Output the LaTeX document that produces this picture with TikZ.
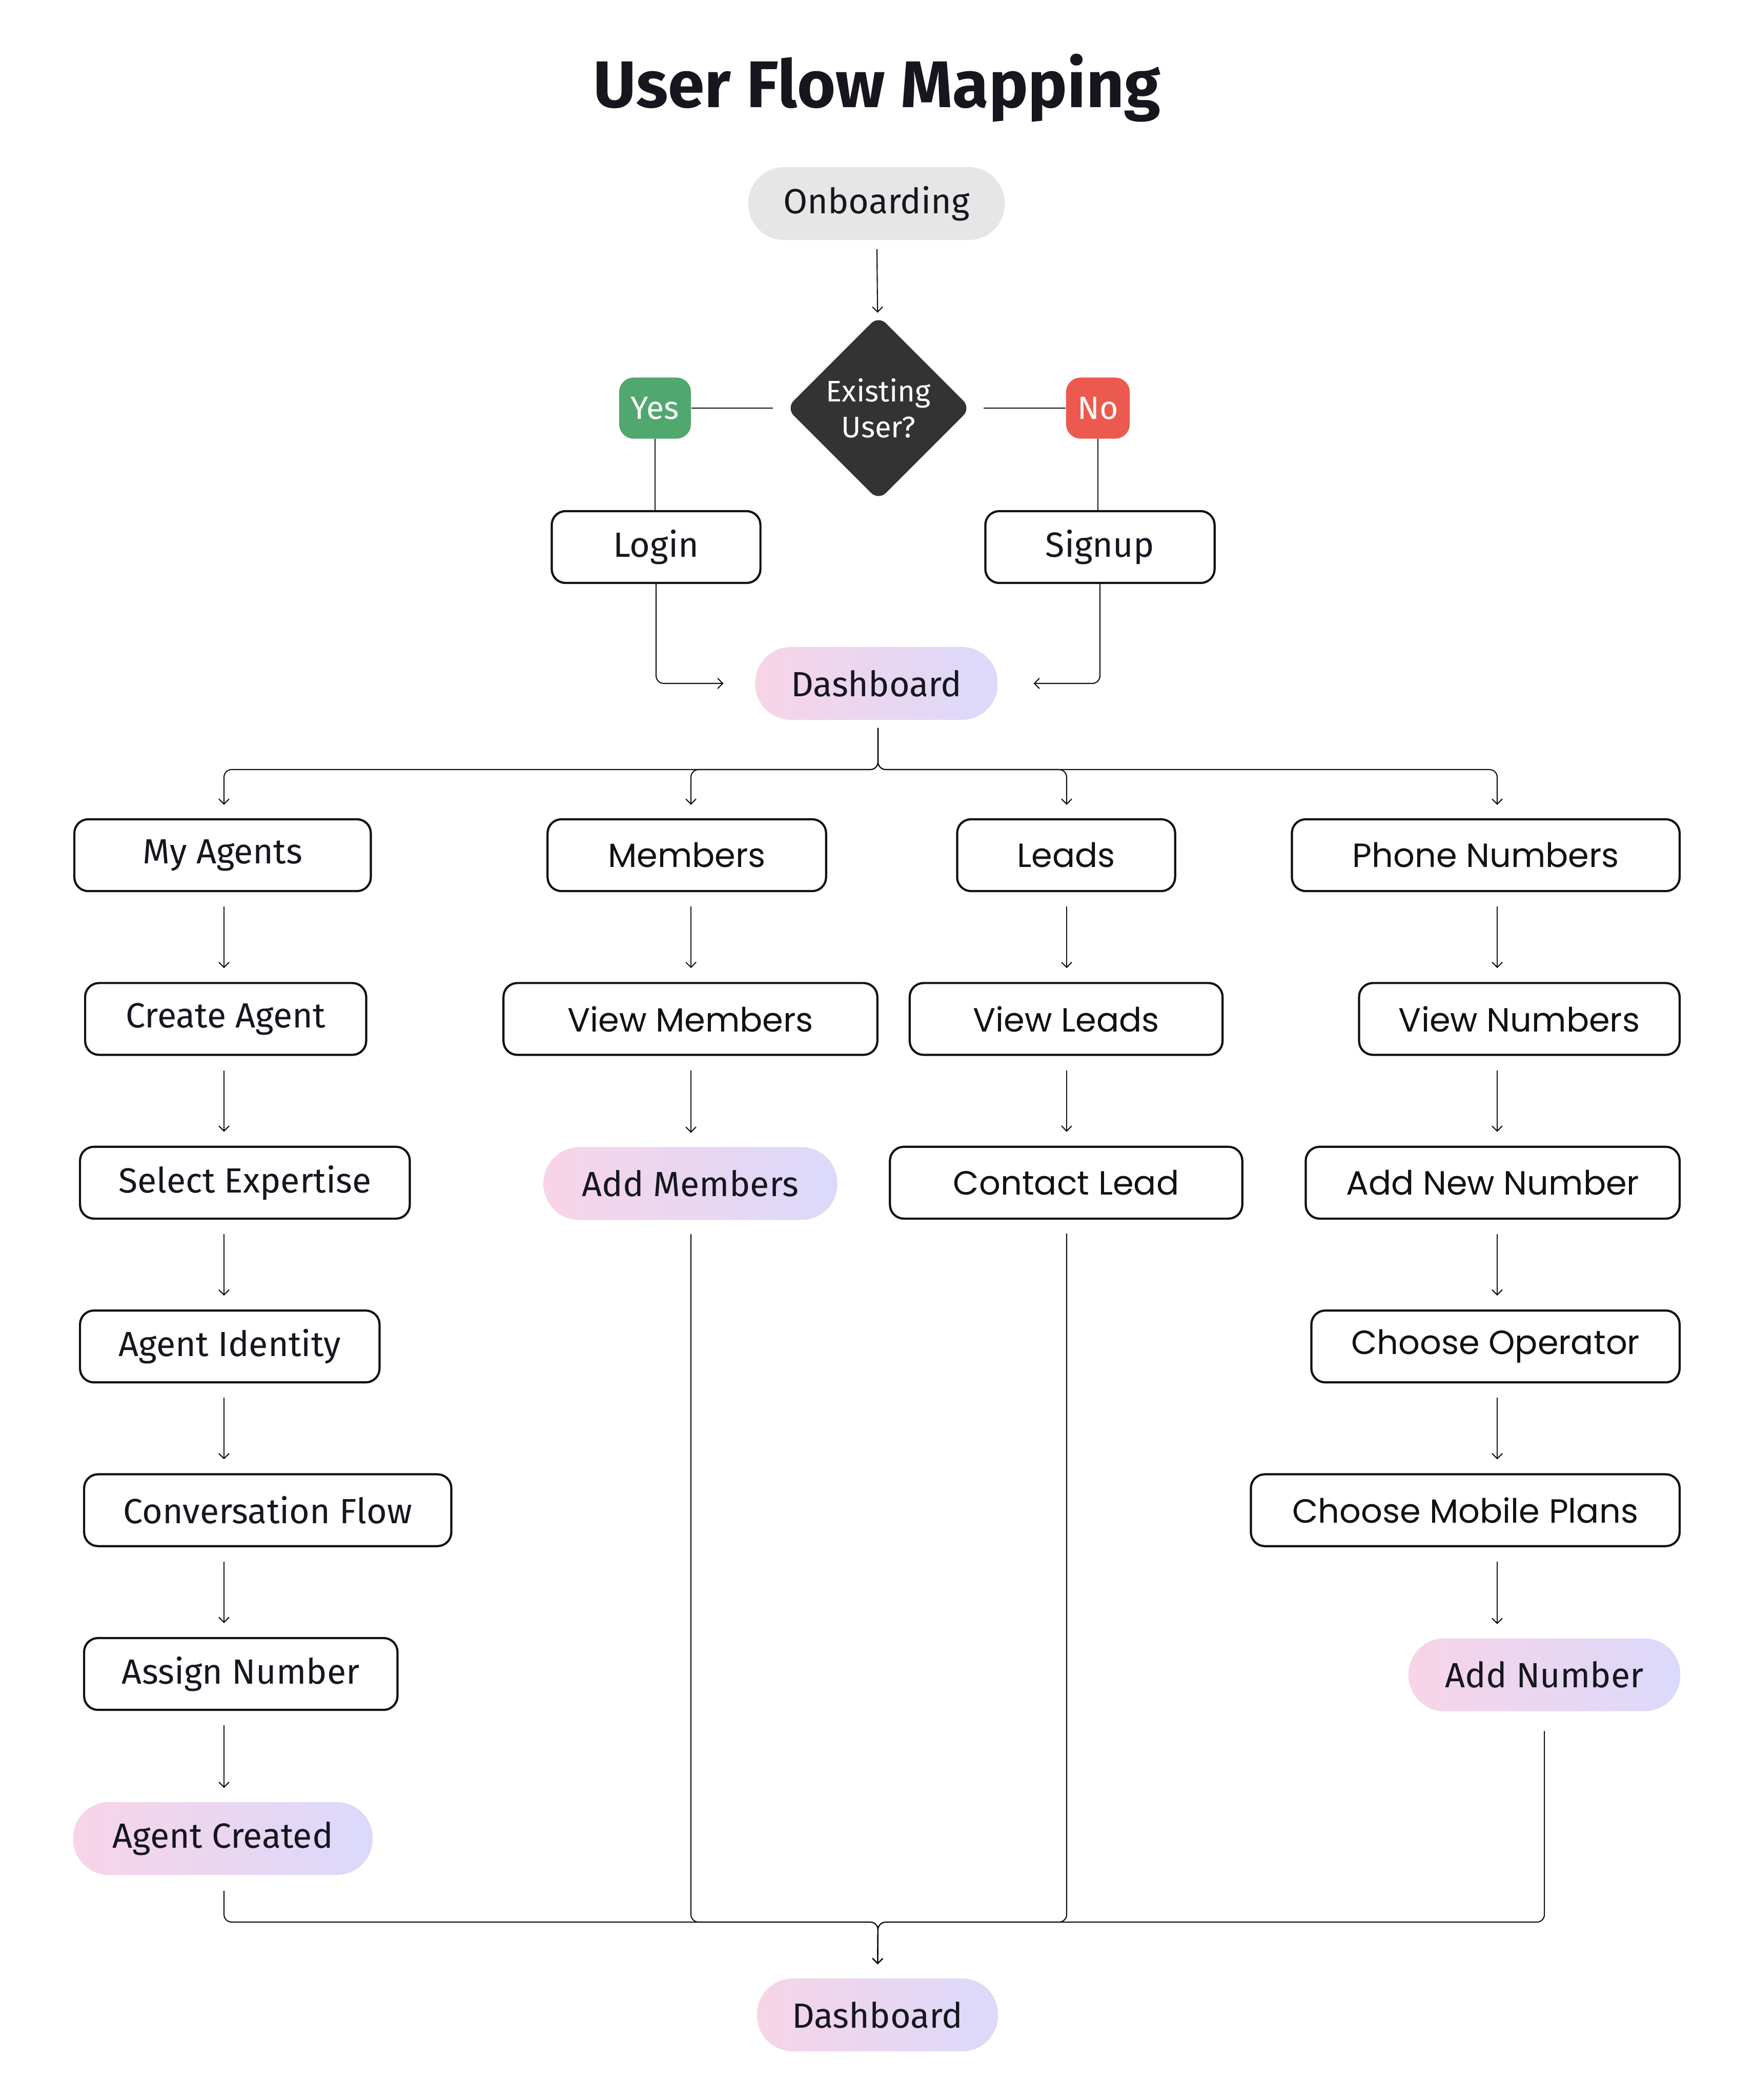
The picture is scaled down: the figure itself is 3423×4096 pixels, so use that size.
\documentclass[tikz,border=0pt]{standalone}
\usepackage{fontspec}
\setmainfont{Fira Sans}
\newfontfamily\popfont{Poppins}
\usetikzlibrary{shapes,arrows.meta,positioning,calc}

\definecolor{ink}{HTML}{16161F}
\definecolor{edge}{HTML}{111111}
\definecolor{onbgray}{HTML}{E6E6E6}
\definecolor{darkdiam}{HTML}{333333}
\definecolor{yesgreen}{HTML}{50A86E}
\definecolor{nored}{HTML}{EC5A4F}
\definecolor{gradL}{HTML}{F8D4E7}
\definecolor{gradR}{HTML}{DBD9FB}

\begin{document}
\begin{tikzpicture}[
    x=0.01cm, y=-0.01cm,
    box/.style={rectangle, draw=edge, line width=1.2pt, rounded corners=0.27cm, minimum height=1.4cm, inner sep=0pt, text=ink, font=\fontsize{19.4}{23}\selectfont},
    pbox/.style={box, text=edge, font=\popfont\fontsize{18.6}{23}\selectfont},
    pill/.style={rectangle, rounded corners=0.7cm, minimum height=1.42cm, inner sep=0pt, left color=gradL, right color=gradR, text=ink, font=\fontsize{19.4}{23}\selectfont},
    tag/.style={rectangle, rounded corners=0.28cm, minimum height=1.19cm, inner sep=0pt, text=white, font=\fontsize{17.8}{20}\selectfont},
    decision/.style={diamond, fill=darkdiam, rounded corners=0.2cm, minimum width=3.6cm, minimum height=3.6cm, inner sep=0pt, align=center, text=white, font=\fontsize{16.5}{19.9}\selectfont},
    link/.style={line width=0.6pt, draw=edge},
    arrow/.style={link, -{Straight Barb[length=1mm,width=2mm]}, shorten <=0.28cm, shorten >=0.27cm}
]
\fill[white] (0,0) rectangle (3423,4096);
\useasboundingbox (0,0) rectangle (3423,4096);

% Title and entry
\node[anchor=base, text=ink, font=\bfseries\fontsize{36.6}{42}\selectfont] (title) at (1711,209) {User Flow Mapping};
\node[pill, left color=onbgray, right color=onbgray, minimum width=5.0cm] (onb) at (1710,397) {Onboarding};
\node[decision] (exist) at (1714,796) {Existing\\User?};
\node[tag, fill=yesgreen, minimum width=1.4cm] (yes) at (1278,796) {Yes};
\node[tag, fill=nored, minimum width=1.24cm] (no) at (2142,796) {No};
\node[box, minimum width=4.07cm] (login) at (1280,1067) {Login};
\node[box, minimum width=4.47cm] (signup) at (2146,1067) {Signup};
\node[pill, minimum width=4.73cm] (dash) at (1710,1333) {Dashboard};

% Column lines
\coordinate (colA) at (437,0);
\coordinate (colB) at (1348,0);
\coordinate (colC) at (2081,0);
\coordinate (colD) at (2921,0);
\coordinate (topbus) at (1713,1501);
\coordinate (botbus) at (1713,3749);

% My Agents column
\node[box, anchor=west, minimum width=5.78cm] (myag) at (143,1668) {My Agents};
\node[box, below=1.75cm of myag.south west, anchor=north west, xshift=0.21cm, minimum width=5.48cm] (creag) {Create Agent};
\node[box, below=1.75cm of creag.south west, anchor=north west, xshift=-0.1cm, minimum width=6.43cm] (selexp) {Select Expertise};
\node[box, below=1.75cm of selexp.south west, anchor=north west, minimum width=5.84cm] (agid) {Agent Identity};
\node[box, below=1.75cm of agid.south west, anchor=north west, xshift=0.08cm, minimum width=7.16cm] (convf) {Conversation Flow};
\node[box, below=1.75cm of convf.south west, anchor=north west, minimum width=6.11cm] (assign) {Assign Number};
\node[pill, below=1.77cm of assign.south west, anchor=north west, xshift=-0.2cm, minimum width=5.84cm] (agcr) {Agent Created};

% Members column
\node[pbox, minimum width=5.43cm] (memb) at (1340,1668) {Members};
\node[pbox, below=1.75cm of memb, xshift=0.07cm, minimum width=7.29cm] (viewmem) {View Members};
\node[pill, below=1.77cm of viewmem, minimum width=5.73cm] (addmem) {Add Members};

% Leads column
\node[pbox, minimum width=4.25cm] (leads) at (2080,1668) {Leads};
\node[pbox, below=1.75cm of leads, minimum width=6.1cm] (viewlead) {View Leads};
\node[pbox, below=1.75cm of viewlead, minimum width=6.87cm] (contact) {Contact Lead};

% Phone Numbers column
\node[pbox, anchor=east, minimum width=7.56cm] (phone) at (3279,1668) {Phone Numbers};
\node[pbox, below=1.75cm of phone.south east, anchor=north east, minimum width=6.25cm] (viewnum) {View Numbers};
\node[pbox, below=1.75cm of viewnum.south east, anchor=north east, minimum width=7.29cm] (addnew) {Add New Number};
\node[pbox, below=1.75cm of addnew.south east, anchor=north east, minimum width=7.18cm] (chooseop) {Choose Operator};
\node[pbox, below=1.75cm of chooseop.south east, anchor=north east, minimum width=8.36cm] (mobplan) {Choose Mobile Plans};
\node[pill, below=1.77cm of mobplan.south east, anchor=north east, minimum width=5.3cm] (addnum) {Add Number};

% Exit
\node[pill, minimum width=4.7cm] (dash2) at (1712,3930) {Dashboard};

% Onboarding and decision
\draw[arrow, shorten <=0.17cm, shorten >=0.07cm] (onb) -- (exist);
\draw[link, shorten >=0.25cm] (yes.east) -- (exist.west);
\draw[link, shorten >=0.24cm] (no.west) -- (exist.east);
\draw[link] (yes.south) -- (yes.south |- login.north);
\draw[link] (no.south) -- (no.south |- signup.north);
\draw[arrow, rounded corners=0.15cm, shorten <=0pt, shorten >=0.61cm] (login.south) |- (dash.west);
\draw[arrow, rounded corners=0.15cm, shorten <=0pt, shorten >=0.69cm] (signup.south) |- (dash.east);

% Dashboard to sections
\draw[arrow, rounded corners=0.15cm, shorten <=0.15cm, shorten >=0.26cm] (dash.south -| topbus) -- (topbus) -| (myag.north -| colA);
\draw[arrow, rounded corners=0.15cm, shorten <=0.15cm, shorten >=0.26cm] (dash.south -| topbus) -- (topbus) -| (memb.north -| colB);
\draw[arrow, rounded corners=0.15cm, shorten <=0.15cm, shorten >=0.26cm] (dash.south -| topbus) -- (topbus) -| (leads.north -| colC);
\draw[arrow, rounded corners=0.15cm, shorten <=0.15cm, shorten >=0.26cm] (dash.south -| topbus) -- (topbus) -| (phone.north -| colD);

% Column steps
\draw[arrow] (myag.south -| colA) -- (creag.north -| colA);
\draw[arrow] (creag.south -| colA) -- (selexp.north -| colA);
\draw[arrow] (selexp.south -| colA) -- (agid.north -| colA);
\draw[arrow] (agid.south -| colA) -- (convf.north -| colA);
\draw[arrow] (convf.south -| colA) -- (assign.north -| colA);
\draw[arrow] (assign.south -| colA) -- (agcr.north -| colA);
\draw[arrow] (memb.south -| colB) -- (viewmem.north -| colB);
\draw[arrow] (viewmem.south -| colB) -- (addmem.north -| colB);
\draw[arrow] (leads.south -| colC) -- (viewlead.north -| colC);
\draw[arrow] (viewlead.south -| colC) -- (contact.north -| colC);
\draw[arrow] (phone.south -| colD) -- (viewnum.north -| colD);
\draw[arrow] (viewnum.south -| colD) -- (addnew.north -| colD);
\draw[arrow] (addnew.south -| colD) -- (chooseop.north -| colD);
\draw[arrow] (chooseop.south -| colD) -- (mobplan.north -| colD);
\draw[arrow] (mobplan.south -| colD) -- (addnum.north -| colD);

% Back to dashboard
\draw[arrow, rounded corners=0.15cm, shorten <=0.3cm] (agcr.south -| colA) |- (botbus) -- (dash2.north);
\draw[arrow, rounded corners=0.15cm, shorten <=0.27cm] (addmem.south -| colB) |- (botbus) -- (dash2.north);
\draw[arrow, rounded corners=0.15cm, shorten <=0.27cm] (contact.south -| colC) |- (botbus) -- (dash2.north);
\draw[arrow, rounded corners=0.15cm, shorten <=0.38cm] (addnum.south) |- (botbus) -- (dash2.north);
\end{tikzpicture}
\end{document}
